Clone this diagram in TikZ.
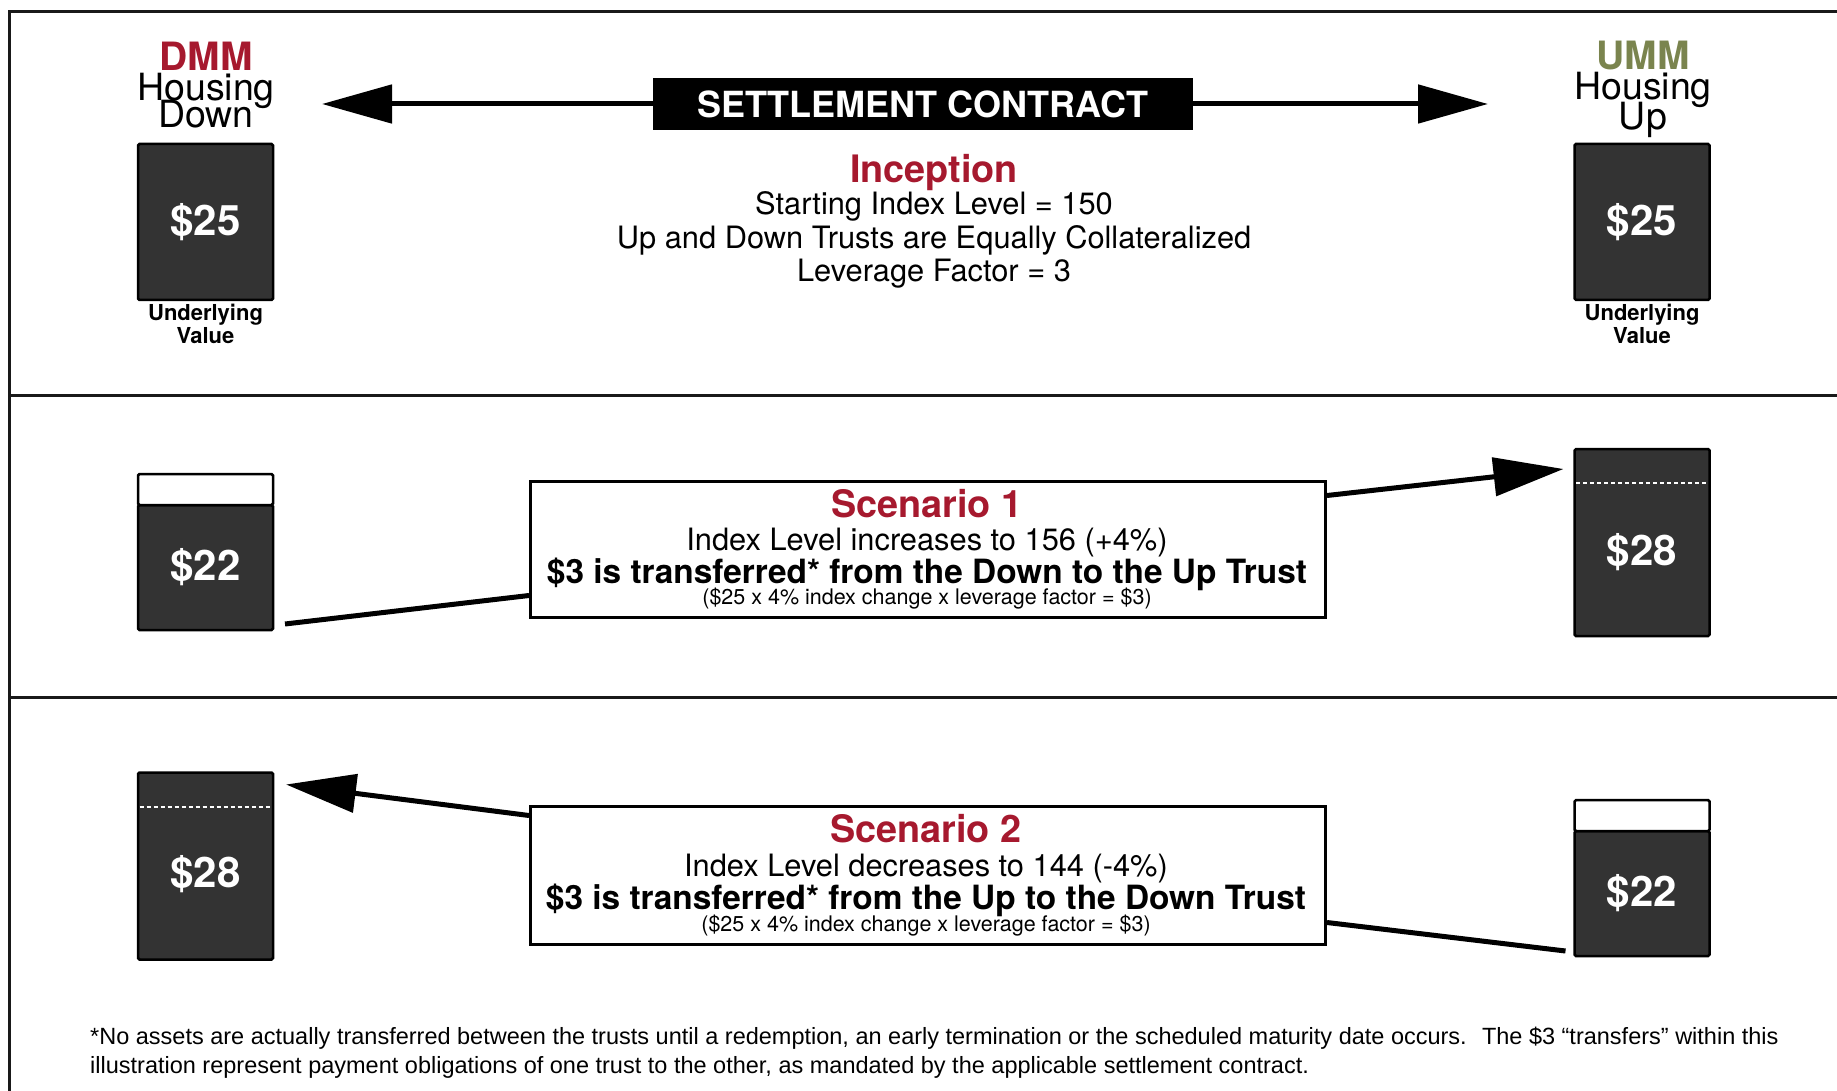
\documentclass[tikz,border=0pt]{standalone}
\usepackage{fontspec}
\setmainfont{TeX Gyre Heros}
\newfontfamily\notefont{Liberation Sans}
\usepackage{tikz}
\usetikzlibrary{arrows.meta,positioning,calc}

\definecolor{dmmred}{RGB}{166,25,46}
\definecolor{ummgreen}{RGB}{122,132,78}
\definecolor{trustgray}{RGB}{51,51,51}

\begin{document}
\begin{tikzpicture}[x=1pt, y=-1pt,
    panel/.style={line width=3pt, draw=black!90},
    trust/.style={draw=black, line width=2.5pt, fill=trustgray, rounded corners=1.5pt,
        minimum width=135pt, inner sep=0pt, outer sep=0pt, text=white,
        font=\fontsize{42}{42}\selectfont\bfseries},
    trustcap/.style={draw=black, line width=2.5pt, fill=white, rounded corners=1.5pt,
        minimum width=135pt, minimum height=31pt, inner sep=0pt, outer sep=0pt},
    trustvalue/.style={text=white, inner sep=0pt, font=\fontsize{42}{42}\selectfont\bfseries},
    levelline/.style={white, line width=2pt, dash pattern=on 4pt off 3pt},
    trustlabel/.style={align=center, inner sep=0pt, font=\fontsize{37.5}{30}\selectfont},
    valuenote/.style={align=center, inner sep=0pt, font=\fontsize{22}{23}\selectfont\bfseries},
    contract/.style={fill=black, text=white, minimum width=540pt, minimum height=52pt,
        inner sep=0pt, font=\fontsize{36}{36}\selectfont\bfseries},
    scenbox/.style={draw=black, line width=3pt, fill=white, minimum width=795pt, inner sep=0pt},
    scenhead/.style={text=dmmred, inner sep=0pt, font=\fontsize{37.8}{38}\selectfont\bfseries},
    scentext/.style={inner sep=0pt, font=\fontsize{30.8}{33.5}\selectfont},
    scenbold/.style={inner sep=0pt, font=\fontsize{33.4}{34}\selectfont\bfseries},
    scensmall/.style={inner sep=0pt, font=\fontsize{21.5}{22}\selectfont},
    flowline/.style={line width=5pt},
    bigarrow/.style={line width=5pt, -{Triangle[length=70pt, width=38pt]}},
    footnote/.style={align=left, inner sep=0pt, font=\notefont\fontsize{23.5}{29}\selectfont}
]
\useasboundingbox (0,0) rectangle (1837,1091);

% Panels
\draw[panel] (9,1091) -- (9,12) -- (1837,12);
\draw[panel] (9,395) -- (1837,395);
\draw[panel] (9,697) -- (1837,697);

% Inception
\node[trustlabel] (dmm) at (206,85) {\textcolor{dmmred}{\fontsize{39}{30}\selectfont\bfseries DMM}\\Housing\\[-9pt]Down};
\node[trustlabel] (umm) at (1643,89) {\textcolor{ummgreen}{\fontsize{39}{30}\selectfont\bfseries UMM}\\Housing\\[-6.5pt]Up};
\node[trust, minimum height=156pt] (down0) at (205.5,222) {\$25};
\node[trust, minimum height=156pt] (up0) at (1642,222) {\$25};
\node[valuenote, below=4pt of down0] (down0note) {Underlying\\Value};
\node[valuenote, below=4pt of up0] (up0note) {Underlying\\Value};

\node[contract] (contract) at (923,104) {SETTLEMENT CONTRACT};
\coordinate (tipdown) at (322,104);
\coordinate (tipup) at (1488,104);
\draw[bigarrow] (contract) -- (tipdown);
\draw[bigarrow] (contract) -- (tipup);

\node[scenhead] (inception) at (934,172.5) {Inception};
\node[scentext, align=center] (inceptiontext) at (934,240) {Starting Index Level = 150\\Up and Down Trusts are Equally Collateralized\\Leverage Factor = 3};

% Scenario 1
\node[trust, minimum height=125pt] (down1) at (205.5,567.5) {\$22};
\node[trustcap, above=0pt of down1] (down1cap) {};
\node[trust, minimum height=187pt] (up1) at (1642,542.5) {};
\node[trustvalue] (up1value) at ($(up1.center)+(0,10)$) {\$28};
\draw[levelline] ($(up1.north west)+(1.5,34)$) -- ($(up1.north east)+(-1.5,34)$);

\node[scenbox, minimum height=136pt] (scen1) at (928,549) {};
\node[scenhead] (scen1head) at (927,504) {Scenario 1};
\node[scentext] (scen1line) at (927,542.5) {Index Level increases to 156 (+4\%)};
\node[scenbold] (scen1move) at (927,574.5) {\$3 is transferred* from the Down to the Up Trust};
\node[scensmall] (scen1calc) at (927,599) {(\$25 x 4\% index change x leverage factor = \$3)};

\draw[flowline] ($(down1.south east)+(12,-6)$) -- ($(scen1.south west)+(0,-23)$);
\draw[bigarrow] ($(scen1.north east)+(0,16)$) -- ($(up1.north west)+(-11,20)$);

% Scenario 2
\node[trust, minimum height=187pt] (down2) at (205.5,866) {};
\node[trustvalue] (down2value) at ($(down2.center)+(0,8)$) {\$28};
\draw[levelline] ($(down2.north west)+(1.5,34)$) -- ($(down2.north east)+(-1.5,34)$);
\node[trust, minimum height=125pt] (up2) at (1642,893.5) {\$22};
\node[trustcap, above=0pt of up2] (up2cap) {};

\node[scenbox, minimum height=138pt] (scen2) at (928,875) {};
\node[scenhead] (scen2head) at (926,829) {Scenario 2};
\node[scentext] (scen2line) at (926,868.5) {Index Level decreases to 144 (-4\%)};
\node[scenbold] (scen2move) at (926,900.5) {\$3 is transferred* from the Up to the Down Trust};
\node[scensmall] (scen2calc) at (926,926) {(\$25 x 4\% index change x leverage factor = \$3)};

\draw[bigarrow] ($(scen2.north west)+(0,11)$) -- ($(down2.north east)+(13,12)$);
\draw[flowline] ($(scen2.south east)+(0,-23)$) -- ($(up2.south west)+(-9,-5)$);

% Footnote
\node[footnote, anchor=north west] (note) at (90,1027) {*No assets are actually transferred between the trusts until a redemption, an early termination or the scheduled maturity date occurs.~ The \$3 “transfers” within this\\illustration represent payment obligations of one trust to the other, as mandated by the applicable settlement contract.};

\end{tikzpicture}
\end{document}
